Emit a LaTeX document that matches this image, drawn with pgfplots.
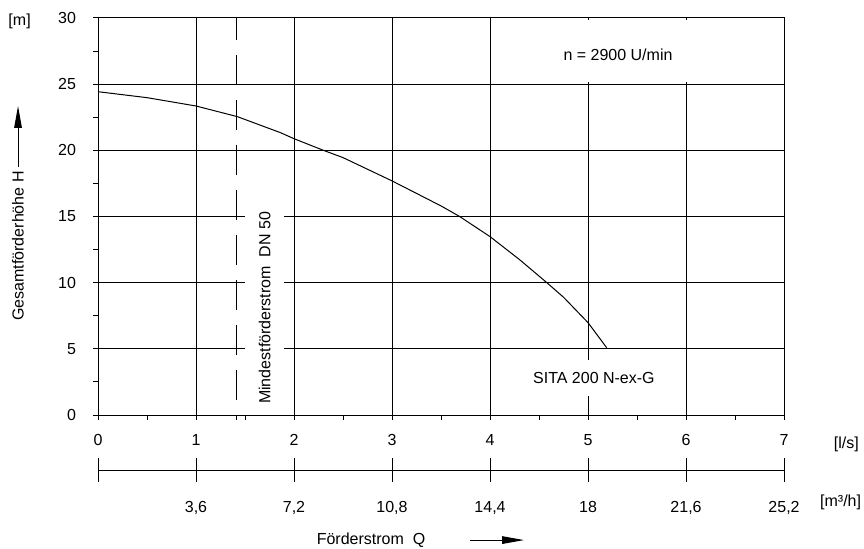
\documentclass[border=0pt]{standalone}
\usepackage{fontspec}
\setmainfont{Liberation Sans}
\usepackage{pgfplots}
\pgfplotsset{compat=1.18}
\usetikzlibrary{arrows.meta}
\begin{document}
\begin{tikzpicture}[font=\fontsize{8}{9.6}\selectfont]
\begin{axis}[name=main, scale only axis, width=343pt, height=198.5pt,
  at={(0,0)}, anchor=south west,
  xmin=0, xmax=7, ymin=0, ymax=30,
  xtick={0,...,7}, ytick={0,5,...,30},
  minor xtick={0.5,1.415,1.5,2.5,3.5,4.5,5.5,6.5},
  minor ytick={2.5,7.5,12.5,17.5,22.5,27.5},
  tick pos=left, tick align=outside,
  major tick length=2.5pt, minor tick length=2.5pt,
  xmajorgrids, ymajorgrids,
  grid style={black, line width=0.5pt},
  axis line style={black, line width=0.5pt},
  every tick/.style={black, line width=0.5pt},
  /pgf/number format/assume math mode=true,
  ticklabel style={font=\fontsize{8}{9.6}\selectfont},
  xticklabel style={yshift=-3.5pt},
  yticklabel style={xshift=-5pt},
  clip=false,
]
\addplot[black, line width=0.5pt] coordinates {
  (0,24.43)(0.5,23.98)(1,23.35)(1.42,22.55)(1.86,21.34)(2,20.88)(2.3,20.0)
  (2.5,19.45)(3,17.69)(3.5,15.8)(3.69,15.0)(4,13.48)(4.3,11.75)(4.58,10.0)
  (4.75,8.9)(5,6.98)(5.19,5.09)};
\addplot[black, line width=0.5pt, dash pattern=on 15pt off 7.5pt] coordinates {(1.415,1.13)(1.415,30)};
\node[rotate=90, fill=white, inner xsep=3pt, inner ysep=7pt] at (axis cs:1.70,8.09) {Mindestförderstrom\ \ DN 50};
\node[fill=white, inner xsep=2pt, inner ysep=6pt] at (axis cs:5.06,2.8) {SITA 200 N-ex-G};
\fill[white] (axis cs:4.45,25.15) rectangle (axis cs:6.93,29.85);
\node at (axis cs:5.306,27.2) {n = 2900 U/min};
\node at (axis cs:-0.80,29.77) {[m]};
\node[anchor=west] at (axis cs:7.436,-2.2) {[l/s]};
\node[anchor=east, inner xsep=0.5pt] at (axis cs:7.80,-6.6) {[m³/h]};
\node[rotate=90] at (axis cs:-0.816,12.77) {Gesamtförderhöhe H};
\draw[line width=0.5pt, -{Triangle[length=11pt,width=3.8pt]}] (axis cs:-0.816,18.74) -- (axis cs:-0.816,23.35);
\node at (axis cs:2.786,-9.45) {Förderstrom\ \ Q};
\draw[line width=0.5pt, -{Triangle[length=11pt,width=3.8pt]}] (axis cs:3.796,-9.45) -- (axis cs:4.347,-9.45);
\coordinate (bbsw) at (axis cs:-1.0,-10.05);
\coordinate (bbne) at (axis cs:7.816,31.36);
\end{axis}
\begin{axis}[scale only axis, width=343pt, height=2pt,
  at={(0,-27.5pt)}, anchor=south west,
  xmin=0, xmax=25.2, ymin=0, ymax=1,
  axis x line=bottom, axis y line=none,
  x axis line style={-, black, line width=0.5pt},
  xtick={0,3.6,7.2,10.8,14.4,18,21.6,25.2},
  xticklabels={{},{3,6},{7,2},{10,8},{14,4},{18},{21,6},{25,2}},
  tick align=center, major tick length=12pt,
  every tick/.style={black, line width=0.5pt},
  ticklabel style={font=\fontsize{8}{9.6}\selectfont},
  xticklabel style={yshift=-6pt},
]
\addplot[draw=none] coordinates {(0,0)(25.2,0)};
\end{axis}
\pgfresetboundingbox
\useasboundingbox (bbsw) rectangle (bbne);
\end{tikzpicture}
\end{document}
